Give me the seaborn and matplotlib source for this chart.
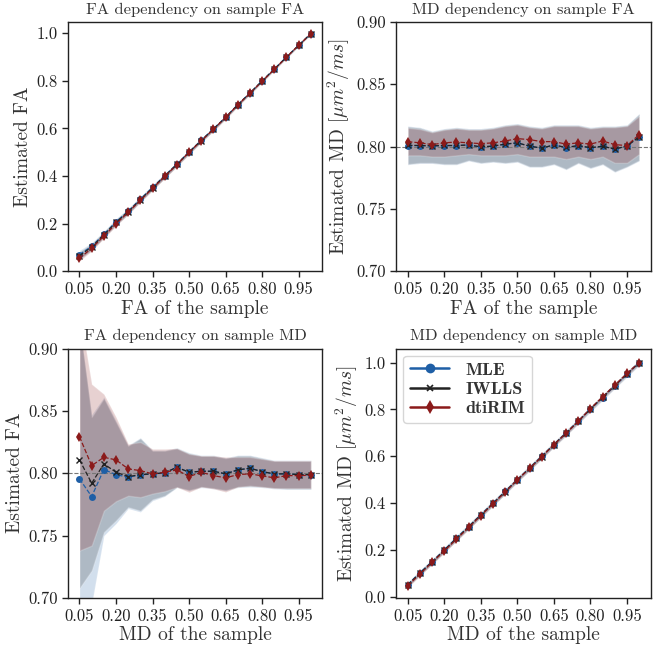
import numpy as np
import pandas as pd
import seaborn as sns
import matplotlib
matplotlib.use("Agg")
import matplotlib.pyplot as plt
from matplotlib.lines import Line2D

# ---------------------------------------------------------------- data
x_vals = [0.05, 0.10, 0.15, 0.20, 0.25, 0.30, 0.35, 0.40, 0.45, 0.50,
          0.55, 0.60, 0.65, 0.70, 0.75, 0.80, 0.85, 0.90, 0.95, 1.00]
methods = ["MLE", "IWLLS", "dtiRIM"]

# FA dependency on sample FA
fa_fa_mle = [0.070, 0.105, 0.155, 0.208, 0.252, 0.303, 0.352, 0.401, 0.450, 0.501,
             0.550, 0.598, 0.647, 0.700, 0.749, 0.800, 0.849, 0.900, 0.949, 0.998]
fa_fa_iwlls = [0.065, 0.102, 0.153, 0.205, 0.250, 0.301, 0.350, 0.400, 0.449, 0.500,
               0.549, 0.597, 0.646, 0.699, 0.748, 0.799, 0.849, 0.899, 0.949, 0.998]
fa_fa_rim = [0.055, 0.096, 0.148, 0.199, 0.248, 0.298, 0.348, 0.398, 0.448, 0.500,
             0.548, 0.596, 0.646, 0.698, 0.748, 0.798, 0.848, 0.899, 0.949, 0.997]
fa_fa_mle_lo = [0.052, 0.090, 0.142, 0.195, 0.240, 0.292, 0.341, 0.391, 0.441, 0.492,
                0.542, 0.590, 0.640, 0.693, 0.743, 0.794, 0.844, 0.895, 0.945, 0.994]
fa_fa_mle_hi = [0.088, 0.120, 0.168, 0.221, 0.264, 0.314, 0.363, 0.411, 0.459, 0.510,
                0.558, 0.606, 0.654, 0.707, 0.755, 0.806, 0.854, 0.905, 0.953, 1.002]
fa_fa_iwlls_lo = [0.050, 0.088, 0.140, 0.193, 0.239, 0.291, 0.340, 0.390, 0.440, 0.491,
                  0.541, 0.589, 0.639, 0.692, 0.742, 0.793, 0.844, 0.894, 0.945, 0.994]
fa_fa_iwlls_hi = [0.082, 0.116, 0.166, 0.218, 0.262, 0.312, 0.361, 0.410, 0.458, 0.509,
                  0.557, 0.605, 0.653, 0.706, 0.754, 0.805, 0.854, 0.904, 0.953, 1.002]
fa_fa_rim_lo = [0.043, 0.085, 0.138, 0.190, 0.239, 0.290, 0.340, 0.390, 0.440, 0.492,
                0.541, 0.589, 0.639, 0.692, 0.742, 0.793, 0.843, 0.895, 0.945, 0.994]
fa_fa_rim_hi = [0.067, 0.107, 0.158, 0.208, 0.257, 0.306, 0.356, 0.406, 0.456, 0.508,
                0.555, 0.603, 0.653, 0.704, 0.754, 0.803, 0.853, 0.903, 0.953, 1.000]

# MD dependency on sample FA
md_fa_mle = [0.8008, 0.8008, 0.8005, 0.8008, 0.8008, 0.8013, 0.7997, 0.8003, 0.8020, 0.8030,
             0.8003, 0.7987, 0.8013, 0.7992, 0.8008, 0.7990, 0.8003, 0.7979, 0.8005, 0.8077]
md_fa_iwlls = [0.8010, 0.8009, 0.8006, 0.8009, 0.8009, 0.8013, 0.7998, 0.8004, 0.8020, 0.8030,
               0.8004, 0.7988, 0.8013, 0.7993, 0.8008, 0.7991, 0.8003, 0.7980, 0.8005, 0.8078]
md_fa_rim = [0.8040, 0.8030, 0.8016, 0.8030, 0.8037, 0.8030, 0.8024, 0.8030, 0.8045, 0.8064,
             0.8056, 0.8040, 0.8040, 0.8020, 0.8030, 0.8020, 0.8045, 0.8016, 0.8008, 0.8096]
md_fa_mle_lo = [0.7855, 0.7865, 0.7865, 0.7855, 0.7855, 0.7885, 0.7865, 0.7875, 0.7865, 0.7875,
                0.7835, 0.7835, 0.7855, 0.7815, 0.7865, 0.7825, 0.7855, 0.7795, 0.7835, 0.7885]
md_fa_mle_hi = [0.8165, 0.8155, 0.8125, 0.8145, 0.8155, 0.8145, 0.8145, 0.8155, 0.8175, 0.8185,
                0.8165, 0.8155, 0.8175, 0.8175, 0.8175, 0.8155, 0.8165, 0.8165, 0.8175, 0.8265]
md_fa_iwlls_lo = [0.7860, 0.7870, 0.7870, 0.7860, 0.7860, 0.7890, 0.7870, 0.7880, 0.7870, 0.7880,
                  0.7840, 0.7840, 0.7860, 0.7820, 0.7870, 0.7830, 0.7860, 0.7800, 0.7840, 0.7890]
md_fa_iwlls_hi = [0.8160, 0.8150, 0.8120, 0.8140, 0.8150, 0.8140, 0.8140, 0.8150, 0.8170, 0.8180,
                  0.8160, 0.8150, 0.8170, 0.8170, 0.8170, 0.8150, 0.8160, 0.8160, 0.8170, 0.8260]
md_fa_rim_lo = [0.7930, 0.7930, 0.7920, 0.7920, 0.7930, 0.7940, 0.7930, 0.7930, 0.7930, 0.7940,
                0.7920, 0.7920, 0.7920, 0.7900, 0.7920, 0.7900, 0.7920, 0.7870, 0.7870, 0.7940]
md_fa_rim_hi = [0.8150, 0.8140, 0.8115, 0.8135, 0.8145, 0.8135, 0.8135, 0.8145, 0.8165, 0.8175,
                0.8155, 0.8145, 0.8165, 0.8165, 0.8165, 0.8145, 0.8155, 0.8155, 0.8165, 0.8245]

# FA dependency on sample MD
fa_md_mle = [0.7955, 0.7813, 0.8030, 0.7989, 0.7968, 0.7987, 0.7995, 0.8003, 0.8048, 0.8008,
             0.8016, 0.8016, 0.7995, 0.8027, 0.8040, 0.8013, 0.7995, 0.7995, 0.7989, 0.7989]
fa_md_iwlls = [0.8107, 0.7920, 0.8075, 0.8008, 0.7973, 0.7989, 0.7995, 0.8003, 0.8048, 0.8008,
               0.8016, 0.8016, 0.7995, 0.8027, 0.8040, 0.8013, 0.7995, 0.7995, 0.7989, 0.7989]
fa_md_rim = [0.8293, 0.8061, 0.8128, 0.8107, 0.8035, 0.8021, 0.7995, 0.8008, 0.8027, 0.7973,
             0.8008, 0.7981, 0.7963, 0.7989, 0.7995, 0.7979, 0.7963, 0.7981, 0.7981, 0.7984]
fa_md_mle_lo = [0.6800, 0.6950, 0.7500, 0.7597, 0.7717, 0.7690, 0.7780, 0.7815, 0.7885, 0.7860,
                0.7885, 0.7875, 0.7860, 0.7885, 0.7890, 0.7885, 0.7875, 0.7870, 0.7870, 0.7870]
fa_md_mle_hi = [0.9200, 0.8470, 0.8610, 0.8420, 0.8225, 0.8285, 0.8185, 0.8185, 0.8205, 0.8165,
                0.8145, 0.8145, 0.8125, 0.8145, 0.8145, 0.8125, 0.8105, 0.8105, 0.8105, 0.8105]
fa_md_iwlls_lo = [0.7080, 0.7220, 0.7528, 0.7622, 0.7728, 0.7700, 0.7790, 0.7820, 0.7888, 0.7865,
                  0.7890, 0.7880, 0.7865, 0.7890, 0.7895, 0.7890, 0.7880, 0.7875, 0.7875, 0.7875]
fa_md_iwlls_hi = [0.9200, 0.8450, 0.8600, 0.8410, 0.8220, 0.8280, 0.8180, 0.8180, 0.8200, 0.8160,
                  0.8140, 0.8140, 0.8120, 0.8140, 0.8140, 0.8120, 0.8100, 0.8100, 0.8100, 0.8100]
fa_md_rim_lo = [0.7380, 0.7420, 0.7700, 0.7776, 0.7820, 0.7808, 0.7837, 0.7856, 0.7888, 0.7848,
                0.7890, 0.7875, 0.7850, 0.7890, 0.7900, 0.7890, 0.7880, 0.7880, 0.7880, 0.7880]
fa_md_rim_hi = [0.9300, 0.8715, 0.8635, 0.8450, 0.8235, 0.8250, 0.8195, 0.8195, 0.8200, 0.8155,
                0.8140, 0.8140, 0.8130, 0.8130, 0.8130, 0.8115, 0.8100, 0.8100, 0.8100, 0.8100]

# MD dependency on sample MD
md_md_mle = [0.052, 0.103, 0.150, 0.200, 0.251, 0.300, 0.350, 0.400, 0.450, 0.500,
             0.550, 0.600, 0.650, 0.700, 0.750, 0.801, 0.851, 0.901, 0.950, 1.000]
md_md_iwlls = [0.051, 0.101, 0.149, 0.199, 0.249, 0.299, 0.349, 0.399, 0.449, 0.500,
               0.549, 0.599, 0.650, 0.699, 0.750, 0.802, 0.852, 0.902, 0.952, 1.000]
md_md_rim = [0.047, 0.097, 0.147, 0.196, 0.246, 0.296, 0.347, 0.397, 0.447, 0.500,
             0.548, 0.598, 0.650, 0.698, 0.750, 0.804, 0.854, 0.904, 0.954, 1.000]
md_md_mle_lo = [0.042, 0.092, 0.139, 0.189, 0.239, 0.288, 0.338, 0.388, 0.438, 0.488,
                0.538, 0.588, 0.638, 0.688, 0.738, 0.789, 0.839, 0.889, 0.938, 0.988]
md_md_mle_hi = [0.062, 0.114, 0.161, 0.211, 0.263, 0.312, 0.362, 0.412, 0.462, 0.512,
                0.562, 0.612, 0.662, 0.712, 0.762, 0.813, 0.863, 0.913, 0.962, 1.012]
md_md_iwlls_lo = [0.042, 0.091, 0.139, 0.189, 0.239, 0.288, 0.338, 0.388, 0.438, 0.489,
                  0.538, 0.588, 0.639, 0.688, 0.739, 0.791, 0.841, 0.891, 0.941, 0.989]
md_md_iwlls_hi = [0.060, 0.111, 0.159, 0.209, 0.259, 0.310, 0.360, 0.410, 0.460, 0.511,
                  0.560, 0.610, 0.661, 0.710, 0.761, 0.813, 0.863, 0.913, 0.963, 1.011]
md_md_rim_lo = [0.039, 0.089, 0.139, 0.188, 0.238, 0.288, 0.339, 0.389, 0.439, 0.492,
                0.540, 0.590, 0.642, 0.690, 0.742, 0.796, 0.846, 0.896, 0.946, 0.992]
md_md_rim_hi = [0.055, 0.105, 0.155, 0.204, 0.254, 0.304, 0.355, 0.405, 0.455, 0.508,
                0.556, 0.606, 0.658, 0.706, 0.758, 0.812, 0.862, 0.912, 0.962, 1.008]

panels = [
    dict(title="FA dependency on sample FA", xlabel="FA of the sample",
         ylabel="Estimated FA", ylim=(0.0, 1.047), yticks=[0.0, 0.2, 0.4, 0.6, 0.8, 1.0],
         yfmt="{:.1f}", ref=None,
         mean=[fa_fa_mle, fa_fa_iwlls, fa_fa_rim],
         lo=[fa_fa_mle_lo, fa_fa_iwlls_lo, fa_fa_rim_lo],
         hi=[fa_fa_mle_hi, fa_fa_iwlls_hi, fa_fa_rim_hi]),
    dict(title="MD dependency on sample FA", xlabel="FA of the sample",
         ylabel=r"Estimated MD [$\mu m^2/ms$]", ylim=(0.70, 0.90),
         yticks=[0.70, 0.75, 0.80, 0.85, 0.90], yfmt="{:.2f}", ref=0.80,
         mean=[md_fa_mle, md_fa_iwlls, md_fa_rim],
         lo=[md_fa_mle_lo, md_fa_iwlls_lo, md_fa_rim_lo],
         hi=[md_fa_mle_hi, md_fa_iwlls_hi, md_fa_rim_hi]),
    dict(title="FA dependency on sample MD", xlabel="MD of the sample",
         ylabel="Estimated FA", ylim=(0.70, 0.90),
         yticks=[0.70, 0.75, 0.80, 0.85, 0.90], yfmt="{:.2f}", ref=0.80,
         mean=[fa_md_mle, fa_md_iwlls, fa_md_rim],
         lo=[fa_md_mle_lo, fa_md_iwlls_lo, fa_md_rim_lo],
         hi=[fa_md_mle_hi, fa_md_iwlls_hi, fa_md_rim_hi]),
    dict(title="MD dependency on sample MD", xlabel="MD of the sample",
         ylabel=r"Estimated MD [$\mu m^2/ms$]", ylim=(-0.005, 1.06),
         yticks=[0.0, 0.2, 0.4, 0.6, 0.8, 1.0], yfmt="{:.1f}", ref=None,
         mean=[md_md_mle, md_md_iwlls, md_md_rim],
         lo=[md_md_mle_lo, md_md_iwlls_lo, md_md_rim_lo],
         hi=[md_md_mle_hi, md_md_iwlls_hi, md_md_rim_hi]),
]

# ---------------------------------------------------------------- style
sns.set_style("ticks")
plt.rcParams.update({
    "font.family": "serif",
    "font.serif": ["cmr10"],
    "mathtext.fontset": "cm",
    "axes.formatter.use_mathtext": True,
    "axes.unicode_minus": False,
    "axes.edgecolor": "#222222",
    "axes.linewidth": 1.0,
    "xtick.color": "#222222",
    "ytick.color": "#222222",
    "text.color": "#333333",
    "axes.labelcolor": "#333333",
})

colors = {"MLE": "#1f5fa6", "IWLLS": "#222222", "dtiRIM": "#8b1a1a"}
markers = {"MLE": "o", "IWLLS": "x", "dtiRIM": "d"}

fig, axes = plt.subplots(2, 2, figsize=(6.66, 6.45), dpi=100)
fig.subplots_adjust(left=0.102, right=0.977, top=0.966, bottom=0.073,
                    wspace=0.29, hspace=0.31)

xticks = [0.05, 0.20, 0.35, 0.50, 0.65, 0.80, 0.95]

for ax, p in zip(axes.flat, panels):
    # spread bands first, then the mean curves on top
    for m, lo, hi in zip(methods, p["lo"], p["hi"]):
        ax.fill_between(x_vals, lo, hi, color=colors[m], alpha=0.2,
                        edgecolor="white", linewidth=1.0)
    if p["ref"] is not None:
        ax.axhline(p["ref"], color="#777777", linestyle="--", linewidth=0.8, zorder=1)
    for m, mean in zip(methods, p["mean"]):
        df = pd.DataFrame({"x": x_vals, "y": mean})
        sns.lineplot(data=df, x="x", y="y", ax=ax, color=colors[m],
                     marker=markers[m], markersize=5, linestyle="--",
                     linewidth=0.9, markeredgewidth=1.0 if m == "IWLLS" else 0,
                     markeredgecolor=colors[m], errorbar=None)
    ax.set_xlim(0.0025, 1.0475)
    ax.set_ylim(*p["ylim"])
    ax.set_xticks(xticks)
    ax.set_xticklabels([f"{v:.2f}" for v in xticks])
    ax.set_yticks(p["yticks"])
    ax.set_yticklabels([p["yfmt"].format(v) for v in p["yticks"]])
    ax.tick_params(labelsize=12, length=4, width=1)
    ax.set_title(p["title"], fontsize=11.8, pad=6)
    ax.set_xlabel(p["xlabel"], fontsize=14, labelpad=2)
    ax.set_ylabel(p["ylabel"], fontsize=14, labelpad=3)
    for s in ax.spines.values():
        s.set_visible(True)

handles = [Line2D([0], [0], color=colors[m], marker=markers[m], linewidth=1.8,
                  markersize=5 if m == "IWLLS" else 7,
                  markeredgewidth=1.2 if m == "IWLLS" else 0,
                  markeredgecolor=colors[m], label=m) for m in methods]
axes[1, 1].legend(handles=handles, loc="upper left", frameon=True,
                  prop={"family": "cmb10", "size": 13}, handlelength=2.2,
                  borderpad=0.35, labelspacing=0.2, handletextpad=0.9,
                  borderaxespad=0.4, fancybox=True)

fig.savefig("out.png", dpi=100)
